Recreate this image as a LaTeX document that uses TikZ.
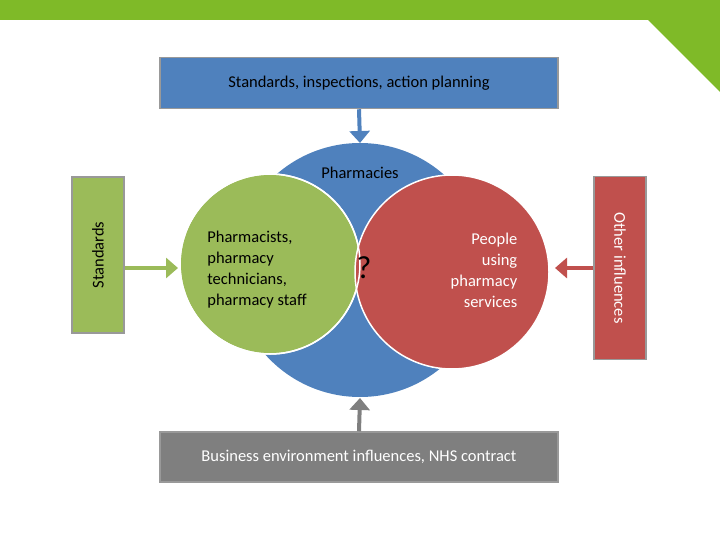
\documentclass[tikz,border=0pt]{standalone}
\usepackage{fontspec}
\setmainfont{Carlito}
\usetikzlibrary{arrows.meta}
\definecolor{gr}{HTML}{9BBB59}
\definecolor{grt}{HTML}{7FBA28}
\definecolor{bl}{HTML}{4F81BD}
\definecolor{rd}{HTML}{C0504D}
\definecolor{gy}{HTML}{7F7F7F}
\tikzset{box/.style={draw=gy!80,line width=1.5pt,font=\fontsize{16.5pt}{20pt}\selectfont},
 arr/.style={line width=4pt,-{Triangle[length=12pt,width=20pt]}},
 lbl/.style={font=\fontsize{16.5pt}{21pt}\selectfont,align=left}}
\begin{document}
\begin{tikzpicture}[x=1pt,y=-1pt]
\useasboundingbox (0,0) rectangle (720,540);
\fill[grt] (0,0) rectangle (720,20);
\fill[grt] (648,20) -- (720,20) -- (720,92) -- cycle;
\node[box,fill=bl,minimum width=398pt,minimum height=51pt] (top) at (359,83) {Standards, inspections, action planning};
\node[box,fill=gy,minimum width=398pt,minimum height=50pt,text=white] (bot) at (359,457) {Business environment influences, NHS contract};
\node[box,fill=gr,minimum width=52pt,minimum height=156pt] (std) at (98,255) {};
\node[rotate=90,font=\fontsize{16.5pt}{20pt}\selectfont] at (std) {Standards};
\node[box,fill=rd,minimum width=52pt,minimum height=183pt] (oth) at (620,268) {};
\node[rotate=-90,text=white,font=\fontsize{16.5pt}{20pt}\selectfont] at (oth) {Other influences};
\fill[bl] (360,270) circle (127);
\draw[white,line width=1.5pt,fill=gr] (270,264) circle (90);
\draw[white,line width=1.5pt,fill=rd] (452,272) circle (97);
\draw[white,line width=1.5pt] (270,264) circle (90);
\node[lbl] (ph) at (360,173) {Pharmacies};
\node[lbl] (pa) at (257,270) {Pharmacists,\\pharmacy\\technicians,\\pharmacy staff};
\node[lbl,align=right,text=white] (pe) at (484,270) {People\\using\\pharmacy\\services};
\node[font=\fontsize{32pt}{34pt}\selectfont] (q) at (364,268) {?};
\coordinate (c1) at (360,143);
\coordinate (c2) at (360,398);
\coordinate (c3) at (178,268);
\coordinate (c4) at (555,268);
\draw[arr,bl] (top.south) -- (c1);
\draw[arr,gy] (bot.north) -- (c2);
\draw[arr,gr] (std.east |- c3) -- (c3);
\draw[arr,rd] (oth.west |- c4) -- (c4);
\end{tikzpicture}
\end{document}
